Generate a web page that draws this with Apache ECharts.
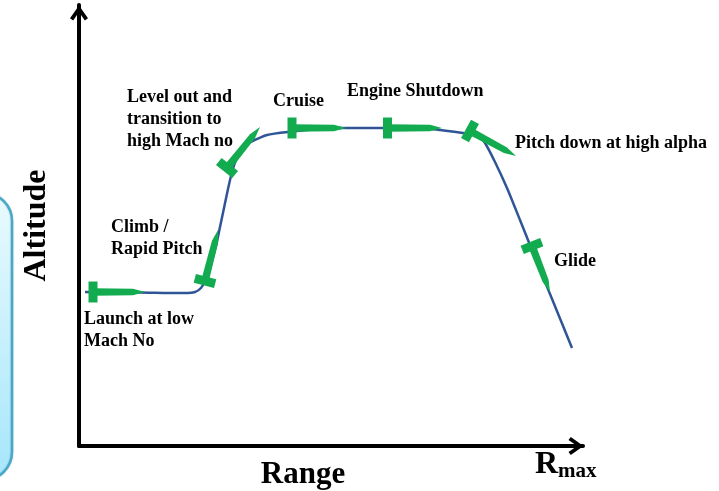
<!DOCTYPE html>
<html>
<head>
<meta charset="utf-8">
<title>Flight profile</title>
<script src="https://cdn.jsdelivr.net/npm/echarts@6/dist/echarts.min.js"></script>
<style>
html, body { margin: 0; padding: 0; background: #fff; }
#chart { width: 719px; height: 491px; }
</style>
</head>
<body>
<div id="chart"></div>
<script>
// trajectory, arbitrary units (range, altitude)
const pathRange = [6, 30, 61, 90, 106, 116, 122, 126, 131, 137, 141, 145, 149, 153, 157, 162, 170, 188, 209, 254, 301, 340, 361, 384, 400, 406, 416, 428, 441, 451, 471, 493]
const pathAltitude = [154, 153.5, 153.5, 153, 153, 154, 158, 165, 178, 200, 219, 238, 257, 274, 286, 295, 303, 311, 314, 318, 318, 318, 316, 313, 309, 303, 284, 258, 226, 201, 152, 98]

// attitude markers: body position then nose position
const markerRange = [14, 126, 148, 213, 308.5, 391, 453]
const markerAltitude = [154, 165, 278, 318, 318, 315, 200]
const noseRange = [66, 139, 181, 267, 363, 437, 471]
const noseAltitude = [154, 216, 319, 318, 318, 290, 154]

const markerData = markerRange.map((x, i) => [x, markerAltitude[i], noseRange[i], noseAltitude[i]])

// green T shape: cross bar at the body position, tapered shaft to the nose
function renderMarker (params, api) {
  const a = api.coord([api.value(0), api.value(1)])
  const b = api.coord([api.value(2), api.value(3)])
  const len = Math.hypot(b[0] - a[0], b[1] - a[1])
  const ux = (b[0] - a[0]) / len
  const uy = (b[1] - a[1]) / len
  const nx = -uy
  const ny = ux
  const pt = (along, side) => [a[0] + ux * along + nx * side, a[1] + uy * along + ny * side]
  const style = { fill: '#12ab50', stroke: null }
  return {
    type: 'group',
    children: [
      {
        type: 'polygon',
        shape: { points: [pt(-4.5, -10.5), pt(4.5, -10.5), pt(4.5, 10.5), pt(-4.5, 10.5)] },
        style: style
      },
      {
        type: 'polygon',
        shape: { points: [pt(0, -3.8), pt(len - 12, -3.2), pt(len, 0), pt(len - 12, 3.2), pt(0, 3.8)] },
        style: style
      }
    ]
  }
}

function note (lines, x, y) {
  return {
    type: 'text',
    x: x,
    y: y,
    silent: true,
    style: {
      text: lines,
      font: 'bold 18px "Liberation Serif"',
      lineHeight: 22,
      fill: '#000'
    }
  }
}

const chart = echarts.init(document.getElementById('chart'))
chart.setOption({
  backgroundColor: '#fff',
  animation: false,
  grid: { left: 79, right: 136, top: 5, bottom: 45, outerBoundsMode: 'none' },
  xAxis: {
    type: 'value',
    min: 0,
    max: 504,
    splitLine: { show: false },
    axisTick: { show: false },
    axisLabel: { show: false },
    axisLine: {
      onZero: false,
      symbol: ['none', 'path://M10 0 L20 14 L16.5 16.5 L10 7 L3.5 16.5 L0 14 Z'],
      symbolSize: [22, 15],
      symbolOffset: [0, -7],
      lineStyle: { color: '#000', width: 4 }
    },
    name: 'Range',
    nameLocation: 'middle',
    nameGap: 13,
    nameTextStyle: { color: '#000', fontFamily: 'Liberation Serif', fontWeight: 'bold', fontSize: 31, padding: [0, 56, 0, 0] }
  },
  yAxis: {
    type: 'value',
    min: 0,
    max: 441,
    splitLine: { show: false },
    axisTick: { show: false },
    axisLabel: { show: false },
    axisLine: {
      onZero: false,
      symbol: ['none', 'path://M10 0 L20 14 L16.5 16.5 L10 7 L3.5 16.5 L0 14 Z'],
      symbolSize: [18, 18],
      symbolOffset: [0, -8],
      lineStyle: { color: '#000', width: 4 }
    },
    name: 'Altitude',
    nameLocation: 'middle',
    nameGap: 26,
    nameRotate: 90,
    nameTextStyle: { color: '#000', fontFamily: 'Liberation Serif', fontWeight: 'bold', fontSize: 32 }
  },
  graphic: [
    {
      type: 'rect',
      silent: true,
      shape: { x: -50, y: 193, width: 62, height: 287, r: 28 },
      style: {
        fill: new echarts.graphic.LinearGradient(0, 0, 0, 1, [
          { offset: 0, color: '#eafaff' },
          { offset: 1, color: '#a6e6fb' }
        ]),
        stroke: '#45aac9',
        lineWidth: 2.5,
        shadowBlur: 2,
        shadowColor: 'rgba(0,0,0,0.2)'
      }
    },
    note('Launch at low\nMach No', 84, 308),
    note('Climb /\nRapid Pitch', 111, 216),
    note('Level out and\ntransition to\nhigh Mach no', 127, 86),
    note('Cruise', 273, 90),
    note('Engine Shutdown', 347, 80),
    note('Pitch down at high alpha', 515, 132),
    note('Glide', 554, 250),
    {
      type: 'text',
      x: 535,
      y: 449,
      silent: true,
      style: {
        text: '{r|R}{m|max}',
        rich: {
          r: { font: 'bold 32px "Liberation Serif"', fill: '#000', verticalAlign: 'top' },
          m: { font: 'bold 21px "Liberation Serif"', fill: '#000', verticalAlign: 'bottom', padding: [12, 0, 0, 0] }
        }
      }
    }
  ],
  series: [
    {
      type: 'line',
      data: pathRange.map((x, i) => [x, pathAltitude[i]]),
      showSymbol: false,
      smooth: 0.2,
      lineStyle: { color: '#2f5597', width: 2.5 },
      z: 2
    },
    {
      type: 'custom',
      data: markerData,
      renderItem: renderMarker,
      encode: { x: [0, 2], y: [1, 3] },
      clip: false,
      z: 3
    }
  ]
})
</script>
</body>
</html>
